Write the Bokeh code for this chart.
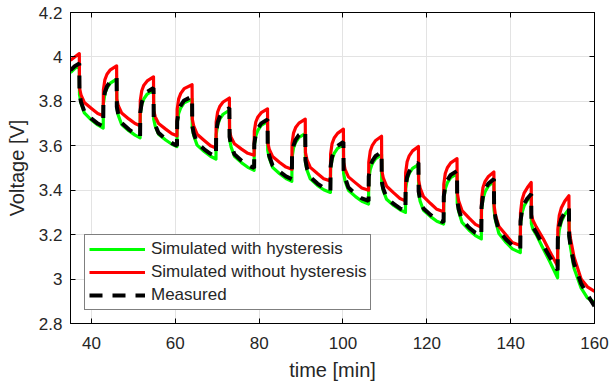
from bokeh.plotting import figure
from bokeh.models import (Range1d, LinearAxis, FixedTicker, NumeralTickFormatter,
                          Legend, LegendItem, CustomJSTickFormatter)
from bokeh.embed import file_html
from bokeh.resources import INLINE

# ---------------- data ----------------
x_ticks = [40, 60, 80, 100, 120, 140, 160]
y_ticks = [2.8, 3.0, 3.2, 3.4, 3.6, 3.8, 4.0, 4.2]

t_lead = [35.0, 36.0]
# time of each current step (start of discharge) and end of discharge [min]
pulse_start = [37.1, 46.0, 54.8, 64.0, 72.9, 82.0, 91.0, 100.1, 109.2, 118.0, 127.2, 136.0, 144.9, 153.9]
pulse_end = [42.8, 51.6, 60.4, 69.7, 78.8, 87.8, 97.0, 106.1, 114.9, 124.0, 133.0, 142.3, 151.2, 160.0]
# sample offsets (min) within a discharge (after start) and within a rest (after end)
discharge_offsets = [0.05, 0.4, 1.2, 2.9, 4.4]
rest_offsets = [0.05, 0.4, 0.9, 1.7]

# --- Simulated without hysteresis (red)
red_lead = [3.985, 4.0]
red_peak = [4.015, 3.96, 3.91, 3.875, 3.815, 3.766, 3.72, 3.675, 3.643, 3.597, 3.542, 3.482, 3.435, 3.375]
red_discharge = [
    [3.86, 3.829, 3.795, 3.768, 3.745, 3.735],
    [3.81, 3.78, 3.748, 3.721, 3.70, 3.69],
    [3.76, 3.731, 3.70, 3.675, 3.654, 3.645],
    [3.72, 3.688, 3.652, 3.624, 3.60, 3.59],
    [3.665, 3.638, 3.609, 3.585, 3.566, 3.557],
    [3.615, 3.585, 3.552, 3.525, 3.504, 3.494],
    [3.57, 3.538, 3.503, 3.475, 3.452, 3.442],
    [3.525, 3.494, 3.46, 3.433, 3.41, 3.40],
    [3.49, 3.456, 3.418, 3.388, 3.363, 3.352],
    [3.445, 3.41, 3.371, 3.34, 3.314, 3.303],
    [3.39, 3.351, 3.308, 3.274, 3.246, 3.233],
    [3.33, 3.285, 3.237, 3.198, 3.165, 3.151],
    [3.29, 3.265, 3.235, 3.18, 3.125, 3.059],
    [3.225, 3.18, 3.10, 3.00, 2.965, 2.945],
]
red_rest = [
    [3.852, 3.897, 3.922, 3.942],
    [3.804, 3.848, 3.873, 3.892],
    [3.765, 3.811, 3.836, 3.857],
    [3.707, 3.752, 3.777, 3.797],
    [3.666, 3.707, 3.730, 3.749],
    [3.612, 3.657, 3.682, 3.702],
    [3.563, 3.610, 3.635, 3.656],
    [3.526, 3.575, 3.602, 3.624],
    [3.479, 3.528, 3.555, 3.577],
    [3.427, 3.475, 3.501, 3.523],
    [3.362, 3.412, 3.440, 3.462],
    [3.299, 3.355, 3.387, 3.412],
    [3.223, 3.287, 3.321, 3.35],
]

# --- Simulated with hysteresis (green)
green_lead = [3.93, 3.948]
green_peak = [3.96, 3.90, 3.85, 3.81, 3.76, 3.71, 3.655, 3.605, 3.56, 3.515, 3.475, 3.44, 3.375, 3.315]
green_discharge = [
    [3.83, 3.793, 3.748, 3.716, 3.694, 3.68],
    [3.77, 3.737, 3.696, 3.668, 3.648, 3.636],
    [3.72, 3.689, 3.652, 3.626, 3.607, 3.596],
    [3.68, 3.645, 3.603, 3.574, 3.553, 3.54],
    [3.63, 3.595, 3.553, 3.524, 3.503, 3.49],
    [3.58, 3.545, 3.503, 3.474, 3.453, 3.44],
    [3.525, 3.491, 3.451, 3.422, 3.402, 3.39],
    [3.475, 3.441, 3.40, 3.371, 3.35, 3.338],
    [3.43, 3.398, 3.359, 3.331, 3.312, 3.30],
    [3.385, 3.351, 3.31, 3.281, 3.26, 3.248],
    [3.345, 3.304, 3.255, 3.22, 3.196, 3.181],
    [3.31, 3.262, 3.205, 3.165, 3.136, 3.119],
    [3.25, 3.225, 3.20, 3.135, 3.08, 3.006],
    [3.19, 3.14, 3.05, 2.96, 2.915, 2.895],
]
green_rest = [
    [3.79, 3.834, 3.86, 3.882],
    [3.743, 3.786, 3.811, 3.833],
    [3.703, 3.746, 3.771, 3.793],
    [3.65, 3.694, 3.72, 3.742],
    [3.60, 3.644, 3.67, 3.692],
    [3.547, 3.59, 3.616, 3.638],
    [3.497, 3.54, 3.566, 3.588],
    [3.449, 3.493, 3.52, 3.542],
    [3.407, 3.45, 3.476, 3.498],
    [3.361, 3.407, 3.434, 3.457],
    [3.31, 3.362, 3.393, 3.419],
    [3.247, 3.298, 3.329, 3.355],
    [3.16, 3.222, 3.259, 3.29],
]

# --- Measured (black dashed)
black_lead = [3.94, 3.958]
black_peak = [3.97, 3.907, 3.86, 3.822, 3.77, 3.718, 3.666, 3.617, 3.572, 3.524, 3.487, 3.45, 3.383, 3.323]
black_discharge = [
    [3.835, 3.798, 3.755, 3.722, 3.70, 3.688],
    [3.775, 3.742, 3.703, 3.674, 3.654, 3.642],
    [3.725, 3.694, 3.658, 3.631, 3.612, 3.60],
    [3.69, 3.656, 3.613, 3.584, 3.564, 3.552],
    [3.64, 3.605, 3.562, 3.533, 3.512, 3.50],
    [3.59, 3.555, 3.512, 3.483, 3.462, 3.45],
    [3.535, 3.50, 3.459, 3.43, 3.41, 3.397],
    [3.49, 3.456, 3.412, 3.383, 3.363, 3.352],
    [3.44, 3.407, 3.367, 3.338, 3.318, 3.306],
    [3.395, 3.36, 3.318, 3.289, 3.268, 3.256],
    [3.355, 3.315, 3.266, 3.231, 3.208, 3.195],
    [3.32, 3.274, 3.218, 3.178, 3.152, 3.136],
    [3.26, 3.235, 3.21, 3.15, 3.10, 3.04],
    [3.195, 3.145, 3.07, 2.98, 2.93, 2.878],
]
black_rest = [
    [3.797, 3.841, 3.867, 3.889],
    [3.751, 3.795, 3.821, 3.843],
    [3.711, 3.755, 3.782, 3.804],
    [3.661, 3.705, 3.731, 3.753],
    [3.609, 3.653, 3.679, 3.701],
    [3.558, 3.601, 3.627, 3.649],
    [3.507, 3.551, 3.577, 3.599],
    [3.462, 3.506, 3.532, 3.554],
    [3.415, 3.459, 3.485, 3.507],
    [3.372, 3.418, 3.445, 3.469],
    [3.323, 3.374, 3.404, 3.43],
    [3.26, 3.309, 3.339, 3.363],
    [3.182, 3.238, 3.272, 3.30],
]


def assemble(lead, peak, discharge, rest):
    ts = list(t_lead)
    vs = list(lead)
    for k in range(len(pulse_start)):
        ts.append(pulse_start[k])
        vs.append(peak[k])
        for off, v in zip(discharge_offsets, discharge[k][:-1]):
            ts.append(pulse_start[k] + off)
            vs.append(v)
        ts.append(pulse_end[k])
        vs.append(discharge[k][-1])
        if k < len(rest):
            for off, v in zip(rest_offsets, rest[k]):
                ts.append(pulse_end[k] + off)
                vs.append(v)
    return ts, vs


FONT = "Liberation Sans"
TXT = "#262626"

p = figure(width=610, height=383, output_backend="svg", toolbar_location=None,
           x_range=Range1d(35, 160), y_range=Range1d(2.8, 4.2),
           min_border_left=70, min_border_right=16, min_border_top=12, min_border_bottom=60,
           background_fill_color="white", border_fill_color="white")
p.outline_line_color = "black"
p.outline_line_width = 1

for ax in (p.xaxis[0], p.yaxis[0]):
    ax.major_tick_in = 5
    ax.major_tick_out = 0
    ax.minor_tick_line_color = None
    ax.axis_line_color = "black"
    ax.major_tick_line_color = "black"
    ax.major_label_text_font = FONT
    ax.major_label_text_font_size = "17px"
    ax.major_label_text_color = TXT
    ax.axis_label_text_font = FONT
    ax.axis_label_text_font_size = "20px"
    ax.axis_label_text_font_style = "normal"
    ax.axis_label_text_color = TXT

p.xaxis[0].ticker = FixedTicker(ticks=x_ticks)
p.yaxis[0].ticker = FixedTicker(ticks=y_ticks)
p.yaxis[0].formatter = NumeralTickFormatter(format="0.[0]")
p.xaxis[0].axis_label = "time [min]"
p.yaxis[0].axis_label = "Voltage [V]"
p.xaxis[0].major_label_standoff = 13
p.xaxis[0].axis_label_standoff = 7
p.yaxis[0].major_label_standoff = 8
p.yaxis[0].axis_label_standoff = 8

blank = CustomJSTickFormatter(code="return ''")
top_ax = LinearAxis(ticker=FixedTicker(ticks=x_ticks), formatter=blank,
                    major_tick_in=5, major_tick_out=0, minor_tick_line_color=None,
                    major_label_standoff=0, major_label_text_font_size="1px")
right_ax = LinearAxis(ticker=FixedTicker(ticks=y_ticks), formatter=blank,
                      major_tick_in=5, major_tick_out=0, minor_tick_line_color=None,
                      major_label_standoff=0, major_label_text_font_size="1px")
p.add_layout(top_ax, "above")
p.add_layout(right_ax, "right")

p.xgrid.ticker = FixedTicker(ticks=x_ticks)
p.ygrid.ticker = FixedTicker(ticks=y_ticks)
p.xgrid.grid_line_color = "#e3e3e3"
p.ygrid.grid_line_color = "#e3e3e3"

tg, vg = assemble(green_lead, green_peak, green_discharge, green_rest)
tr, vr = assemble(red_lead, red_peak, red_discharge, red_rest)
tb, vb = assemble(black_lead, black_peak, black_discharge, black_rest)

rg = p.line(tg, vg, line_color="#00ff00", line_width=3.2, line_join="round")
rr = p.line(tr, vr, line_color="#ff0000", line_width=3.2, line_join="round")
rb = p.line(tb, vb, line_color="black", line_width=4, line_dash="13 10")

legend = Legend(items=[
    LegendItem(label="Simulated with hysteresis", renderers=[rg]),
    LegendItem(label="Simulated without hysteresis", renderers=[rr]),
    LegendItem(label="Measured", renderers=[rb]),
], location=(14, 13))
legend.margin = 0
legend.padding = 4
legend.spacing = 3
legend.glyph_width = 56
legend.glyph_height = 20
legend.label_height = 20
legend.label_standoff = 6
legend.label_text_font = FONT
legend.label_text_font_size = "17px"
legend.label_text_color = TXT
legend.border_line_color = "black"
legend.border_line_width = 1
legend.background_fill_alpha = 1
p.add_layout(legend)

open("out.html", "w").write(file_html(p, INLINE))
